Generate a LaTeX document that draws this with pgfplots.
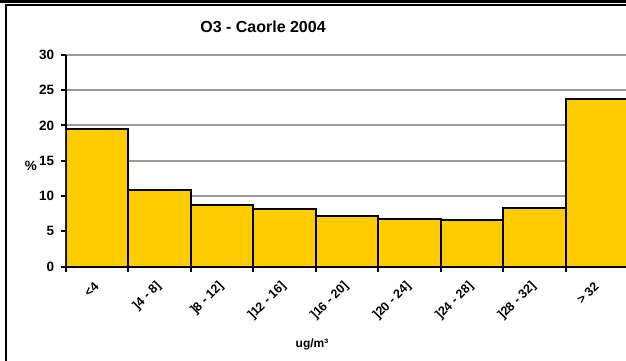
\documentclass[border=0pt]{standalone}
\usepackage{fontspec}
\setmainfont{Liberation Sans}
\usepackage{pgfplots}
\pgfplotsset{compat=1.18}
\definecolor{barfill}{HTML}{FFCC00}
\definecolor{gridgray}{HTML}{999999}
\begin{document}
\begin{tikzpicture}
% 1px = 1pt, origin at the lower left of the 626x361 picture
\useasboundingbox (0,0) rectangle (626pt,361pt);
\clip (0,0) rectangle (626pt,361pt);
% cell border
\draw[line width=3pt] (0,359.5pt) -- (626pt,359.5pt);
\draw[line width=2pt] (6pt,0) -- (6pt,355.5pt) -- (626pt,355.5pt);
\begin{axis}[
    at={(65.7pt,94.3pt)}, anchor=south west,
    scale only axis,
    width=625pt, height=212pt,
    xmin=0, xmax=10,
    ymin=0, ymax=30,
    axis x line*=bottom, axis y line*=left,
    x axis line style={line width=2.5pt},
    y axis line style={line width=2pt},
    ytick={0,5,...,30},
    ymajorgrids,
    grid style={gridgray, line width=2pt},
    xtick={0,...,9}, xticklabels={},
    tick align=outside,
    major tick length=5pt,
    tick style={black, line width=2pt},
    /pgf/number format/assume math mode=true,
    yticklabel style={font=\fontsize{13.5}{15}\selectfont\bfseries, xshift=-3pt},
    extra x ticks={0.5,1.5,...,8.5},
    extra x tick labels={<4, ]4 - 8], ]8 - 12], ]12 - 16], ]16 - 20], ]20 - 24], ]24 - 28], ]28 - 32], > 32},
    extra x tick style={major tick length=0pt, grid=none,
        tick label style={font=\fontsize{12.5}{14}\selectfont\bfseries,
            yshift=-15pt, xshift=2pt, rotate=45, anchor=east}},
]
\addplot[ybar interval, fill=barfill, draw=black, line width=2pt] coordinates {
    (0,19.44) (1,10.85) (2,8.77) (3,8.16) (4,7.17) (5,6.75) (6,6.60) (7,8.26) (8,23.80) (9,23.80)
};
\end{axis}
\node[font=\fontsize{16}{18}\selectfont\bfseries] at (263pt,334.5pt) {O3 - Caorle 2004};
\node[font=\fontsize{13.5}{15}\selectfont\bfseries] at (31pt,195pt) {\%};
\node[font=\fontsize{12}{14}\selectfont\bfseries] at (312pt,17pt) {ug/m³};
\end{tikzpicture}
\end{document}
